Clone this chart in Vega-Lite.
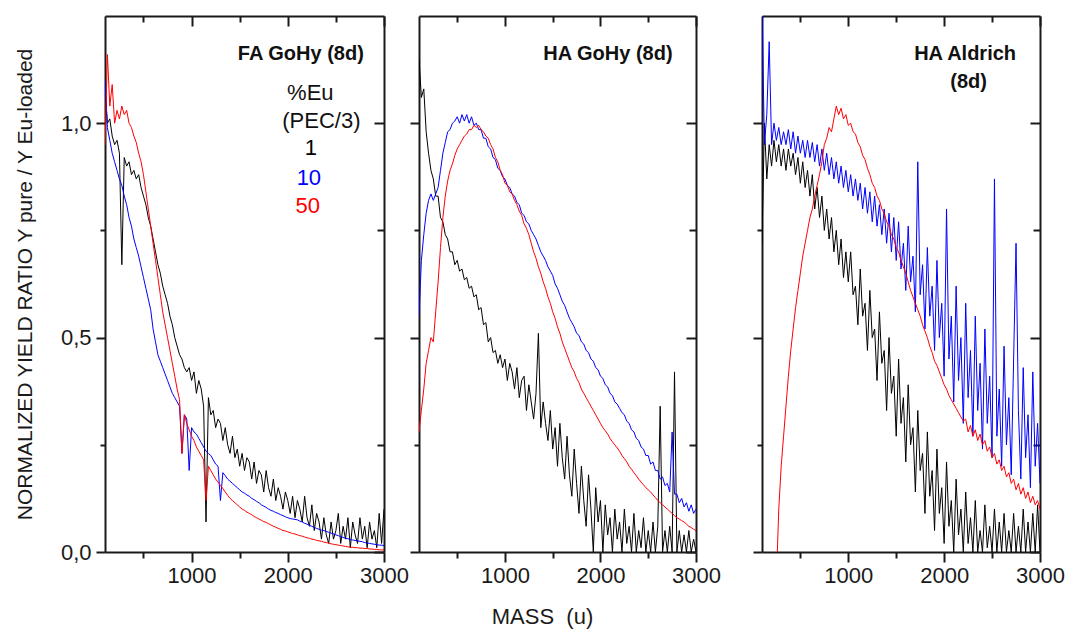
{
  "$schema": "https://vega.github.io/schema/vega-lite/v6.json",
  "background": "white",
  "padding": {"left": 14, "top": 15, "right": 5, "bottom": 5},
  "config": {
    "view": {"stroke": null},
    "font": "Liberation Sans",
    "axis": {"grid": false, "domainColor": "#1a1a1a", "domainWidth": 2, "tickColor": "#1a1a1a", "tickWidth": 2, "labelFont": "Liberation Sans", "labelFontSize": 22, "labelColor": "#1a1a1a", "labelFlush": false, "titleFont": "Liberation Sans", "titleFontSize": 21, "titleFontWeight": "normal", "titleColor": "#1a1a1a"},
    "line": {"strokeWidth": 1, "clip": true}
  },
  "datasets": {
    "spectra": [
      {"panel":"FA","mass":100,"1":1.08,"10":1.10,"50":0.95},
      {"panel":"FA","mass":125,"1":1.00,"10":0.99,"50":1.16},
      {"panel":"FA","mass":150,"1":1.01,"10":0.96,"50":1.04},
      {"panel":"FA","mass":175,"1":0.97,"10":0.93,"50":1.09},
      {"panel":"FA","mass":200,"1":0.95,"10":0.91,"50":1.00},
      {"panel":"FA","mass":225,"1":0.96,"10":0.89,"50":1.03},
      {"panel":"FA","mass":250,"1":0.93,"10":0.87,"50":1.01},
      {"panel":"FA","mass":275,"1":0.67,"10":0.855,"50":1.04},
      {"panel":"FA","mass":300,"1":0.92,"10":0.83,"50":1.02},
      {"panel":"FA","mass":325,"1":0.90,"10":0.81,"50":1.03},
      {"panel":"FA","mass":350,"1":0.91,"10":0.78,"50":1.00},
      {"panel":"FA","mass":375,"1":0.88,"10":0.76,"50":0.99},
      {"panel":"FA","mass":400,"1":0.89,"10":0.73,"50":0.97},
      {"panel":"FA","mass":425,"1":0.87,"10":0.71,"50":0.955},
      {"panel":"FA","mass":450,"1":0.88,"10":0.69,"50":0.93},
      {"panel":"FA","mass":475,"1":0.85,"10":0.665,"50":0.91},
      {"panel":"FA","mass":500,"1":0.83,"10":0.64,"50":0.88},
      {"panel":"FA","mass":525,"1":0.81,"10":0.615,"50":0.84},
      {"panel":"FA","mass":550,"1":0.78,"10":0.59,"50":0.80},
      {"panel":"FA","mass":575,"1":0.76,"10":0.565,"50":0.76},
      {"panel":"FA","mass":600,"1":0.73,"10":0.52,"50":0.72},
      {"panel":"FA","mass":625,"1":0.70,"10":0.49,"50":0.68},
      {"panel":"FA","mass":650,"1":0.67,"10":0.46,"50":0.64},
      {"panel":"FA","mass":675,"1":0.65,"10":0.445,"50":0.60},
      {"panel":"FA","mass":700,"1":0.62,"10":0.43,"50":0.56},
      {"panel":"FA","mass":725,"1":0.60,"10":0.415,"50":0.53},
      {"panel":"FA","mass":750,"1":0.58,"10":0.40,"50":0.50},
      {"panel":"FA","mass":775,"1":0.55,"10":0.385,"50":0.47},
      {"panel":"FA","mass":800,"1":0.53,"10":0.37,"50":0.44},
      {"panel":"FA","mass":825,"1":0.50,"10":0.36,"50":0.41},
      {"panel":"FA","mass":850,"1":0.48,"10":0.35,"50":0.38},
      {"panel":"FA","mass":875,"1":0.46,"10":0.34,"50":0.355},
      {"panel":"FA","mass":900,"1":0.45,"10":0.23,"50":0.23},
      {"panel":"FA","mass":925,"1":0.43,"10":0.32,"50":0.32},
      {"panel":"FA","mass":950,"1":0.42,"10":0.31,"50":0.30},
      {"panel":"FA","mass":975,"1":0.43,"10":0.19,"50":0.285},
      {"panel":"FA","mass":1000,"1":0.40,"10":0.29,"50":0.27},
      {"panel":"FA","mass":1025,"1":0.42,"10":0.28,"50":0.26},
      {"panel":"FA","mass":1050,"1":0.37,"10":0.275,"50":0.245},
      {"panel":"FA","mass":1075,"1":0.40,"10":0.265,"50":0.235},
      {"panel":"FA","mass":1100,"1":0.38,"10":0.255,"50":0.225},
      {"panel":"FA","mass":1125,"1":0.34,"10":0.245,"50":0.215},
      {"panel":"FA","mass":1150,"1":0.07,"10":0.235,"50":0.12},
      {"panel":"FA","mass":1175,"1":0.36,"10":0.23,"50":0.20},
      {"panel":"FA","mass":1200,"1":0.32,"10":0.225,"50":0.19},
      {"panel":"FA","mass":1225,"1":0.33,"10":0.215,"50":0.18},
      {"panel":"FA","mass":1250,"1":0.29,"10":0.205,"50":0.17},
      {"panel":"FA","mass":1275,"1":0.31,"10":0.20,"50":0.163},
      {"panel":"FA","mass":1300,"1":0.30,"10":0.12,"50":0.155},
      {"panel":"FA","mass":1325,"1":0.26,"10":0.185,"50":0.148},
      {"panel":"FA","mass":1350,"1":0.29,"10":0.178,"50":0.14},
      {"panel":"FA","mass":1375,"1":0.25,"10":0.17,"50":0.132},
      {"panel":"FA","mass":1400,"1":0.23,"10":0.165,"50":0.125},
      {"panel":"FA","mass":1425,"1":0.27,"10":0.16,"50":0.12},
      {"panel":"FA","mass":1450,"1":0.22,"10":0.155,"50":0.115},
      {"panel":"FA","mass":1475,"1":0.24,"10":0.15,"50":0.11},
      {"panel":"FA","mass":1500,"1":0.20,"10":0.145,"50":0.105},
      {"panel":"FA","mass":1525,"1":0.23,"10":0.14,"50":0.10},
      {"panel":"FA","mass":1550,"1":0.19,"10":0.137,"50":0.097},
      {"panel":"FA","mass":1575,"1":0.22,"10":0.133,"50":0.093},
      {"panel":"FA","mass":1600,"1":0.21,"10":0.13,"50":0.09},
      {"panel":"FA","mass":1625,"1":0.17,"10":0.125,"50":0.087},
      {"panel":"FA","mass":1650,"1":0.21,"10":0.122,"50":0.083},
      {"panel":"FA","mass":1675,"1":0.16,"10":0.118,"50":0.08},
      {"panel":"FA","mass":1700,"1":0.19,"10":0.115,"50":0.077},
      {"panel":"FA","mass":1725,"1":0.18,"10":0.11,"50":0.074},
      {"panel":"FA","mass":1750,"1":0.14,"10":0.107,"50":0.071},
      {"panel":"FA","mass":1775,"1":0.19,"10":0.104,"50":0.069},
      {"panel":"FA","mass":1800,"1":0.15,"10":0.10,"50":0.066},
      {"panel":"FA","mass":1825,"1":0.13,"10":0.097,"50":0.063},
      {"panel":"FA","mass":1850,"1":0.17,"10":0.095,"50":0.06},
      {"panel":"FA","mass":1875,"1":0.12,"10":0.092,"50":0.058},
      {"panel":"FA","mass":1900,"1":0.15,"10":0.09,"50":0.055},
      {"panel":"FA","mass":1925,"1":0.13,"10":0.087,"50":0.053},
      {"panel":"FA","mass":1950,"1":0.10,"10":0.085,"50":0.05},
      {"panel":"FA","mass":1975,"1":0.14,"10":0.082,"50":0.049},
      {"panel":"FA","mass":2000,"1":0.12,"10":0.08,"50":0.047},
      {"panel":"FA","mass":2025,"1":0.09,"10":0.078,"50":0.045},
      {"panel":"FA","mass":2050,"1":0.13,"10":0.077,"50":0.043},
      {"panel":"FA","mass":2075,"1":0.08,"10":0.076,"50":0.042},
      {"panel":"FA","mass":2100,"1":0.12,"10":0.075,"50":0.04},
      {"panel":"FA","mass":2125,"1":0.10,"10":0.072,"50":0.038},
      {"panel":"FA","mass":2150,"1":0.07,"10":0.07,"50":0.037},
      {"panel":"FA","mass":2175,"1":0.13,"10":0.067,"50":0.035},
      {"panel":"FA","mass":2200,"1":0.08,"10":0.065,"50":0.033},
      {"panel":"FA","mass":2225,"1":0.06,"10":0.062,"50":0.032},
      {"panel":"FA","mass":2250,"1":0.11,"10":0.06,"50":0.03},
      {"panel":"FA","mass":2275,"1":0.05,"10":0.057,"50":0.029},
      {"panel":"FA","mass":2300,"1":0.09,"10":0.055,"50":0.027},
      {"panel":"FA","mass":2325,"1":0.07,"10":0.053,"50":0.026},
      {"panel":"FA","mass":2350,"1":0.03,"10":0.051,"50":0.025},
      {"panel":"FA","mass":2375,"1":0.08,"10":0.05,"50":0.023},
      {"panel":"FA","mass":2400,"1":0.04,"10":0.048,"50":0.022},
      {"panel":"FA","mass":2425,"1":0.02,"10":0.046,"50":0.021},
      {"panel":"FA","mass":2450,"1":0.07,"10":0.044,"50":0.019},
      {"panel":"FA","mass":2475,"1":0.03,"10":0.042,"50":0.018},
      {"panel":"FA","mass":2500,"1":0.05,"10":0.04,"50":0.017},
      {"panel":"FA","mass":2525,"1":0.09,"10":0.038,"50":0.016},
      {"panel":"FA","mass":2550,"1":0.02,"10":0.036,"50":0.015},
      {"panel":"FA","mass":2575,"1":0.06,"10":0.034,"50":0.014},
      {"panel":"FA","mass":2600,"1":0.03,"10":0.032,"50":0.013},
      {"panel":"FA","mass":2625,"1":0.08,"10":0.031,"50":0.012},
      {"panel":"FA","mass":2650,"1":0.01,"10":0.029,"50":0.011},
      {"panel":"FA","mass":2675,"1":0.07,"10":0.028,"50":0.011},
      {"panel":"FA","mass":2700,"1":0.04,"10":0.027,"50":0.010},
      {"panel":"FA","mass":2725,"1":0.02,"10":0.026,"50":0.010},
      {"panel":"FA","mass":2750,"1":0.08,"10":0.025,"50":0.009},
      {"panel":"FA","mass":2775,"1":0.03,"10":0.024,"50":0.009},
      {"panel":"FA","mass":2800,"1":0.06,"10":0.022,"50":0.008},
      {"panel":"FA","mass":2825,"1":0.01,"10":0.021,"50":0.008},
      {"panel":"FA","mass":2850,"1":0.07,"10":0.02,"50":0.007},
      {"panel":"FA","mass":2875,"1":0.03,"10":0.019,"50":0.007},
      {"panel":"FA","mass":2900,"1":0.05,"10":0.018,"50":0.006},
      {"panel":"FA","mass":2925,"1":0.01,"10":0.017,"50":0.006},
      {"panel":"FA","mass":2950,"1":0.09,"10":0.016,"50":0.005},
      {"panel":"FA","mass":2975,"1":0.02,"10":0.016,"50":0.005},
      {"panel":"FA","mass":3000,"1":0.10,"10":0.015,"50":0.005},

      {"panel":"HG","mass":100,"1":1.15,"10":0.55,"50":0.28},
      {"panel":"HG","mass":125,"1":1.06,"10":0.68,"50":0.33},
      {"panel":"HG","mass":150,"1":1.08,"10":0.74,"50":0.38},
      {"panel":"HG","mass":175,"1":0.98,"10":0.79,"50":0.44},
      {"panel":"HG","mass":200,"1":0.93,"10":0.82,"50":0.47},
      {"panel":"HG","mass":225,"1":0.89,"10":0.835,"50":0.50},
      {"panel":"HG","mass":250,"1":0.87,"10":0.82,"50":0.49},
      {"panel":"HG","mass":275,"1":0.83,"10":0.835,"50":0.56},
      {"panel":"HG","mass":300,"1":0.83,"10":0.85,"50":0.63},
      {"panel":"HG","mass":325,"1":0.78,"10":0.89,"50":0.71},
      {"panel":"HG","mass":350,"1":0.77,"10":0.93,"50":0.78},
      {"panel":"HG","mass":375,"1":0.74,"10":0.955,"50":0.83},
      {"panel":"HG","mass":400,"1":0.73,"10":0.98,"50":0.865},
      {"panel":"HG","mass":425,"1":0.70,"10":0.985,"50":0.89},
      {"panel":"HG","mass":450,"1":0.70,"10":1.0,"50":0.905},
      {"panel":"HG","mass":475,"1":0.67,"10":1.005,"50":0.925},
      {"panel":"HG","mass":500,"1":0.68,"10":1.015,"50":0.94},
      {"panel":"HG","mass":525,"1":0.655,"10":1.0,"50":0.95},
      {"panel":"HG","mass":550,"1":0.66,"10":1.02,"50":0.96},
      {"panel":"HG","mass":575,"1":0.635,"10":1.005,"50":0.97},
      {"panel":"HG","mass":600,"1":0.64,"10":1.02,"50":0.975},
      {"panel":"HG","mass":625,"1":0.615,"10":1.0,"50":0.985},
      {"panel":"HG","mass":650,"1":0.62,"10":1.015,"50":0.985},
      {"panel":"HG","mass":675,"1":0.595,"10":0.995,"50":0.995},
      {"panel":"HG","mass":700,"1":0.60,"10":1.0,"50":0.99},
      {"panel":"HG","mass":725,"1":0.565,"10":0.985,"50":0.995},
      {"panel":"HG","mass":750,"1":0.57,"10":0.985,"50":0.985},
      {"panel":"HG","mass":775,"1":0.53,"10":0.965,"50":0.98},
      {"panel":"HG","mass":800,"1":0.535,"10":0.965,"50":0.97},
      {"panel":"HG","mass":825,"1":0.49,"10":0.945,"50":0.965},
      {"panel":"HG","mass":850,"1":0.50,"10":0.94,"50":0.95},
      {"panel":"HG","mass":875,"1":0.465,"10":0.92,"50":0.94},
      {"panel":"HG","mass":900,"1":0.47,"10":0.915,"50":0.92},
      {"panel":"HG","mass":925,"1":0.44,"10":0.895,"50":0.91},
      {"panel":"HG","mass":950,"1":0.46,"10":0.89,"50":0.89},
      {"panel":"HG","mass":975,"1":0.43,"10":0.875,"50":0.88},
      {"panel":"HG","mass":1000,"1":0.45,"10":0.87,"50":0.86},
      {"panel":"HG","mass":1025,"1":0.40,"10":0.855,"50":0.855},
      {"panel":"HG","mass":1050,"1":0.44,"10":0.85,"50":0.84},
      {"panel":"HG","mass":1075,"1":0.42,"10":0.835,"50":0.835},
      {"panel":"HG","mass":1100,"1":0.38,"10":0.83,"50":0.82},
      {"panel":"HG","mass":1125,"1":0.43,"10":0.815,"50":0.81},
      {"panel":"HG","mass":1150,"1":0.36,"10":0.81,"50":0.795},
      {"panel":"HG","mass":1175,"1":0.40,"10":0.79,"50":0.785},
      {"panel":"HG","mass":1200,"1":0.41,"10":0.785,"50":0.765},
      {"panel":"HG","mass":1225,"1":0.33,"10":0.77,"50":0.755},
      {"panel":"HG","mass":1250,"1":0.39,"10":0.765,"50":0.74},
      {"panel":"HG","mass":1275,"1":0.35,"10":0.75,"50":0.72},
      {"panel":"HG","mass":1300,"1":0.31,"10":0.74,"50":0.70},
      {"panel":"HG","mass":1325,"1":0.37,"10":0.73,"50":0.685},
      {"panel":"HG","mass":1350,"1":0.51,"10":0.715,"50":0.665},
      {"panel":"HG","mass":1375,"1":0.29,"10":0.70,"50":0.65},
      {"panel":"HG","mass":1400,"1":0.35,"10":0.69,"50":0.63},
      {"panel":"HG","mass":1425,"1":0.30,"10":0.68,"50":0.615},
      {"panel":"HG","mass":1450,"1":0.26,"10":0.665,"50":0.595},
      {"panel":"HG","mass":1475,"1":0.33,"10":0.655,"50":0.58},
      {"panel":"HG","mass":1500,"1":0.24,"10":0.645,"50":0.56},
      {"panel":"HG","mass":1525,"1":0.29,"10":0.625,"50":0.545},
      {"panel":"HG","mass":1550,"1":0.20,"10":0.615,"50":0.525},
      {"panel":"HG","mass":1575,"1":0.30,"10":0.60,"50":0.51},
      {"panel":"HG","mass":1600,"1":0.22,"10":0.585,"50":0.49},
      {"panel":"HG","mass":1625,"1":0.17,"10":0.575,"50":0.475},
      {"panel":"HG","mass":1650,"1":0.27,"10":0.56,"50":0.46},
      {"panel":"HG","mass":1675,"1":0.18,"10":0.545,"50":0.445},
      {"panel":"HG","mass":1700,"1":0.13,"10":0.535,"50":0.43},
      {"panel":"HG","mass":1725,"1":0.24,"10":0.525,"50":0.42},
      {"panel":"HG","mass":1750,"1":0.16,"10":0.51,"50":0.405},
      {"panel":"HG","mass":1775,"1":0.09,"10":0.505,"50":0.395},
      {"panel":"HG","mass":1800,"1":0.20,"10":0.49,"50":0.38},
      {"panel":"HG","mass":1825,"1":0.12,"10":0.485,"50":0.37},
      {"panel":"HG","mass":1850,"1":0.06,"10":0.47,"50":0.36},
      {"panel":"HG","mass":1875,"1":0.18,"10":0.465,"50":0.35},
      {"panel":"HG","mass":1900,"1":0.10,"10":0.45,"50":0.34},
      {"panel":"HG","mass":1925,"1":0.0,"10":0.445,"50":0.33},
      {"panel":"HG","mass":1950,"1":0.15,"10":0.43,"50":0.32},
      {"panel":"HG","mass":1975,"1":0.07,"10":0.425,"50":0.31},
      {"panel":"HG","mass":2000,"1":0.12,"10":0.41,"50":0.30},
      {"panel":"HG","mass":2025,"1":0.0,"10":0.405,"50":0.29},
      {"panel":"HG","mass":2050,"1":0.11,"10":0.39,"50":0.283},
      {"panel":"HG","mass":2075,"1":0.04,"10":0.385,"50":0.275},
      {"panel":"HG","mass":2100,"1":0.08,"10":0.37,"50":0.265},
      {"panel":"HG","mass":2125,"1":0.0,"10":0.365,"50":0.257},
      {"panel":"HG","mass":2150,"1":0.10,"10":0.35,"50":0.25},
      {"panel":"HG","mass":2175,"1":0.03,"10":0.345,"50":0.243},
      {"panel":"HG","mass":2200,"1":0.07,"10":0.335,"50":0.235},
      {"panel":"HG","mass":2225,"1":0.0,"10":0.325,"50":0.225},
      {"panel":"HG","mass":2250,"1":0.10,"10":0.32,"50":0.218},
      {"panel":"HG","mass":2275,"1":0.02,"10":0.305,"50":0.21},
      {"panel":"HG","mass":2300,"1":0.06,"10":0.30,"50":0.20},
      {"panel":"HG","mass":2325,"1":0.0,"10":0.285,"50":0.193},
      {"panel":"HG","mass":2350,"1":0.09,"10":0.28,"50":0.185},
      {"panel":"HG","mass":2375,"1":0.0,"10":0.265,"50":0.178},
      {"panel":"HG","mass":2400,"1":0.05,"10":0.26,"50":0.17},
      {"panel":"HG","mass":2425,"1":0.01,"10":0.245,"50":0.163},
      {"panel":"HG","mass":2450,"1":0.08,"10":0.24,"50":0.157},
      {"panel":"HG","mass":2475,"1":0.0,"10":0.225,"50":0.15},
      {"panel":"HG","mass":2500,"1":0.05,"10":0.225,"50":0.145},
      {"panel":"HG","mass":2525,"1":0.0,"10":0.205,"50":0.14},
      {"panel":"HG","mass":2550,"1":0.07,"10":0.21,"50":0.133},
      {"panel":"HG","mass":2575,"1":0.0,"10":0.19,"50":0.127},
      {"panel":"HG","mass":2600,"1":0.06,"10":0.19,"50":0.12},
      {"panel":"HG","mass":2625,"1":0.34,"10":0.17,"50":0.115},
      {"panel":"HG","mass":2650,"1":0.0,"10":0.175,"50":0.11},
      {"panel":"HG","mass":2675,"1":0.05,"10":0.155,"50":0.105},
      {"panel":"HG","mass":2700,"1":0.0,"10":0.16,"50":0.10},
      {"panel":"HG","mass":2725,"1":0.06,"10":0.14,"50":0.095},
      {"panel":"HG","mass":2750,"1":0.0,"10":0.28,"50":0.09},
      {"panel":"HG","mass":2775,"1":0.42,"10":0.135,"50":0.085},
      {"panel":"HG","mass":2800,"1":0.0,"10":0.135,"50":0.08},
      {"panel":"HG","mass":2825,"1":0.05,"10":0.115,"50":0.077},
      {"panel":"HG","mass":2850,"1":0.0,"10":0.125,"50":0.073},
      {"panel":"HG","mass":2875,"1":0.04,"10":0.105,"50":0.07},
      {"panel":"HG","mass":2900,"1":0.0,"10":0.115,"50":0.065},
      {"panel":"HG","mass":2925,"1":0.05,"10":0.095,"50":0.06},
      {"panel":"HG","mass":2950,"1":0.0,"10":0.11,"50":0.057},
      {"panel":"HG","mass":2975,"1":0.03,"10":0.09,"50":0.053},
      {"panel":"HG","mass":3000,"1":0.0,"10":0.10,"50":0.05},

      {"panel":"AL","mass":100,"1":0.72,"10":1.28},
      {"panel":"AL","mass":125,"1":1.00,"10":0.95},
      {"panel":"AL","mass":150,"1":0.87,"10":1.02},
      {"panel":"AL","mass":175,"1":0.95,"10":1.19},
      {"panel":"AL","mass":200,"1":0.90,"10":0.95},
      {"panel":"AL","mass":225,"1":0.96,"10":1.0},
      {"panel":"AL","mass":250,"1":0.91,"10":0.96},
      {"panel":"AL","mass":260,"50":0.0},
      {"panel":"AL","mass":275,"1":0.95,"10":0.99,"50":0.10},
      {"panel":"AL","mass":300,"1":0.90,"10":0.95,"50":0.20},
      {"panel":"AL","mass":325,"1":0.94,"10":0.98,"50":0.27},
      {"panel":"AL","mass":350,"1":0.89,"10":0.95,"50":0.34},
      {"panel":"AL","mass":375,"1":0.94,"10":0.985,"50":0.41},
      {"panel":"AL","mass":400,"1":0.90,"10":0.94,"50":0.47},
      {"panel":"AL","mass":425,"1":0.93,"10":0.98,"50":0.52},
      {"panel":"AL","mass":450,"1":0.88,"10":0.93,"50":0.57},
      {"panel":"AL","mass":475,"1":0.92,"10":0.97,"50":0.61},
      {"panel":"AL","mass":500,"1":0.86,"10":0.93,"50":0.65},
      {"panel":"AL","mass":525,"1":0.91,"10":0.96,"50":0.69},
      {"panel":"AL","mass":550,"1":0.85,"10":0.92,"50":0.72},
      {"panel":"AL","mass":575,"1":0.89,"10":0.96,"50":0.75},
      {"panel":"AL","mass":600,"1":0.83,"10":0.92,"50":0.78},
      {"panel":"AL","mass":625,"1":0.88,"10":0.955,"50":0.80},
      {"panel":"AL","mass":650,"1":0.80,"10":0.91,"50":0.83},
      {"panel":"AL","mass":675,"1":0.85,"10":0.95,"50":0.855},
      {"panel":"AL","mass":700,"1":0.78,"10":0.90,"50":0.88},
      {"panel":"AL","mass":725,"1":0.83,"10":0.94,"50":0.91},
      {"panel":"AL","mass":750,"1":0.75,"10":0.89,"50":0.95},
      {"panel":"AL","mass":775,"1":0.80,"10":0.93,"50":0.965},
      {"panel":"AL","mass":800,"1":0.73,"10":0.88,"50":0.99},
      {"panel":"AL","mass":825,"1":0.78,"10":0.92,"50":0.98},
      {"panel":"AL","mass":850,"1":0.70,"10":0.87,"50":1.01},
      {"panel":"AL","mass":875,"1":0.75,"10":0.91,"50":1.04},
      {"panel":"AL","mass":900,"1":0.67,"10":0.86,"50":1.02},
      {"panel":"AL","mass":925,"1":0.73,"10":0.90,"50":1.035},
      {"panel":"AL","mass":950,"1":0.64,"10":0.85,"50":1.01},
      {"panel":"AL","mass":975,"1":0.70,"10":0.89,"50":1.02},
      {"panel":"AL","mass":1000,"1":0.63,"10":0.84,"50":0.995},
      {"panel":"AL","mass":1025,"1":0.70,"10":0.88,"50":1.0},
      {"panel":"AL","mass":1050,"1":0.60,"10":0.83,"50":0.98},
      {"panel":"AL","mass":1075,"1":0.62,"10":0.87,"50":0.975},
      {"panel":"AL","mass":1100,"1":0.53,"10":0.82,"50":0.955},
      {"panel":"AL","mass":1125,"1":0.66,"10":0.86,"50":0.945},
      {"panel":"AL","mass":1150,"1":0.55,"10":0.80,"50":0.925},
      {"panel":"AL","mass":1175,"1":0.58,"10":0.85,"50":0.915},
      {"panel":"AL","mass":1200,"1":0.47,"10":0.79,"50":0.895},
      {"panel":"AL","mass":1225,"1":0.61,"10":0.84,"50":0.88},
      {"panel":"AL","mass":1250,"1":0.50,"10":0.77,"50":0.86},
      {"panel":"AL","mass":1275,"1":0.52,"10":0.83,"50":0.85},
      {"panel":"AL","mass":1300,"1":0.40,"10":0.76,"50":0.83},
      {"panel":"AL","mass":1325,"1":0.56,"10":0.81,"50":0.82},
      {"panel":"AL","mass":1350,"1":0.44,"10":0.74,"50":0.80},
      {"panel":"AL","mass":1375,"1":0.47,"10":0.80,"50":0.79},
      {"panel":"AL","mass":1400,"1":0.33,"10":0.72,"50":0.77},
      {"panel":"AL","mass":1425,"1":0.50,"10":0.79,"50":0.76},
      {"panel":"AL","mass":1450,"1":0.37,"10":0.70,"50":0.74},
      {"panel":"AL","mass":1475,"1":0.41,"10":0.78,"50":0.73},
      {"panel":"AL","mass":1500,"1":0.27,"10":0.68,"50":0.71},
      {"panel":"AL","mass":1525,"1":0.45,"10":0.77,"50":0.70},
      {"panel":"AL","mass":1550,"1":0.30,"10":0.66,"50":0.68},
      {"panel":"AL","mass":1575,"1":0.36,"10":0.72,"50":0.665},
      {"panel":"AL","mass":1600,"1":0.21,"10":0.61,"50":0.65},
      {"panel":"AL","mass":1625,"1":0.39,"10":0.76,"50":0.63},
      {"panel":"AL","mass":1650,"1":0.25,"10":0.63,"50":0.61},
      {"panel":"AL","mass":1675,"1":0.29,"10":0.69,"50":0.595},
      {"panel":"AL","mass":1700,"1":0.14,"10":0.56,"50":0.58},
      {"panel":"AL","mass":1725,"1":0.33,"10":0.91,"50":0.565},
      {"panel":"AL","mass":1750,"1":0.19,"10":0.60,"50":0.55},
      {"panel":"AL","mass":1775,"1":0.23,"10":0.67,"50":0.53},
      {"panel":"AL","mass":1800,"1":0.09,"10":0.52,"50":0.515},
      {"panel":"AL","mass":1825,"1":0.28,"10":0.71,"50":0.50},
      {"panel":"AL","mass":1850,"1":0.13,"10":0.55,"50":0.48},
      {"panel":"AL","mass":1875,"1":0.19,"10":0.62,"50":0.465},
      {"panel":"AL","mass":1900,"1":0.05,"10":0.47,"50":0.445},
      {"panel":"AL","mass":1925,"1":0.24,"10":0.68,"50":0.435},
      {"panel":"AL","mass":1950,"1":0.09,"10":0.50,"50":0.42},
      {"panel":"AL","mass":1975,"1":0.15,"10":0.58,"50":0.405},
      {"panel":"AL","mass":2000,"1":0.02,"10":0.41,"50":0.39},
      {"panel":"AL","mass":2025,"1":0.21,"10":0.80,"50":0.38},
      {"panel":"AL","mass":2050,"1":0.06,"10":0.45,"50":0.365},
      {"panel":"AL","mass":2075,"1":0.12,"10":0.55,"50":0.355},
      {"panel":"AL","mass":2100,"1":0.0,"10":0.35,"50":0.345},
      {"panel":"AL","mass":2125,"1":0.17,"10":0.62,"50":0.335},
      {"panel":"AL","mass":2150,"1":0.04,"10":0.40,"50":0.325},
      {"panel":"AL","mass":2175,"1":0.10,"10":0.50,"50":0.315},
      {"panel":"AL","mass":2200,"1":0.0,"10":0.30,"50":0.305},
      {"panel":"AL","mass":2225,"1":0.14,"10":0.58,"50":0.31},
      {"panel":"AL","mass":2250,"1":0.02,"10":0.36,"50":0.28},
      {"panel":"AL","mass":2275,"1":0.08,"10":0.47,"50":0.295},
      {"panel":"AL","mass":2300,"1":0.0,"10":0.27,"50":0.27},
      {"panel":"AL","mass":2325,"1":0.12,"10":0.55,"50":0.285},
      {"panel":"AL","mass":2350,"1":0.0,"10":0.33,"50":0.26},
      {"panel":"AL","mass":2375,"1":0.05,"10":0.44,"50":0.275},
      {"panel":"AL","mass":2400,"1":0.0,"10":0.24,"50":0.25},
      {"panel":"AL","mass":2425,"1":0.11,"10":0.52,"50":0.26},
      {"panel":"AL","mass":2450,"1":0.01,"10":0.30,"50":0.235},
      {"panel":"AL","mass":2475,"1":0.06,"10":0.41,"50":0.245},
      {"panel":"AL","mass":2500,"1":0.0,"10":0.22,"50":0.22},
      {"panel":"AL","mass":2525,"1":0.10,"10":0.87,"50":0.23},
      {"panel":"AL","mass":2550,"1":0.0,"10":0.27,"50":0.205},
      {"panel":"AL","mass":2575,"1":0.07,"10":0.38,"50":0.215},
      {"panel":"AL","mass":2600,"1":0.0,"10":0.20,"50":0.19},
      {"panel":"AL","mass":2625,"1":0.09,"10":0.48,"50":0.20},
      {"panel":"AL","mass":2650,"1":0.0,"10":0.25,"50":0.175},
      {"panel":"AL","mass":2675,"1":0.05,"10":0.36,"50":0.185},
      {"panel":"AL","mass":2700,"1":0.0,"10":0.18,"50":0.16},
      {"panel":"AL","mass":2725,"1":0.09,"10":0.45,"50":0.17},
      {"panel":"AL","mass":2750,"1":0.0,"10":0.72,"50":0.145},
      {"panel":"AL","mass":2775,"1":0.06,"10":0.33,"50":0.16},
      {"panel":"AL","mass":2800,"1":0.0,"10":0.17,"50":0.135},
      {"panel":"AL","mass":2825,"1":0.10,"10":0.43,"50":0.15},
      {"panel":"AL","mass":2850,"1":0.0,"10":0.22,"50":0.125},
      {"panel":"AL","mass":2875,"1":0.07,"10":0.32,"50":0.14},
      {"panel":"AL","mass":2900,"1":0.0,"10":0.15,"50":0.115},
      {"panel":"AL","mass":2925,"1":0.09,"10":0.42,"50":0.13},
      {"panel":"AL","mass":2950,"1":0.0,"10":0.20,"50":0.11},
      {"panel":"AL","mass":2975,"1":0.11,"10":0.30,"50":0.12},
      {"panel":"AL","mass":3000,"1":0.0,"10":0.16,"50":0.10}
    ]
  },
  "hconcat": [
    {
      "bounds": "flush",
      "spacing": 35,
      "hconcat": [
        {
          "width": 279, "height": 536,
          "layer": [
            {
              "data": {"name": "spectra"},
              "transform": [
                {"filter": "datum.panel === 'FA'"},
                {"fold": ["1", "10", "50"], "as": ["series", "value"]},
                {"filter": "isValid(datum.value)"}
              ],
              "mark": {"type": "line", "strokeWidth": 1, "clip": true},
              "encoding": {
                "x": {"field": "mass", "type": "quantitative", "scale": {"domain": [100, 3000], "nice": false, "zero": false},
                  "axis": {"orient": "bottom", "title": null, "values": [500, 1000, 1500, 2000, 2500, 3000], "format": "d", "labelExpr": "datum.value % 1000 === 0 ? datum.label : ''", "tickSize": {"condition": {"test": "datum.value % 1000 === 0", "value": 10}, "value": 6}, "labelPadding": 3}},
                "y": {"field": "value", "type": "quantitative", "scale": {"domain": [0, 1.25], "nice": false, "zero": false},
                  "axis": {"orient": "left", "title": "NORMALIZED  YIELD  RATIO  Y pure / Y Eu-loaded", "values": [0, 0.25, 0.5, 0.75, 1], "labelExpr": "datum.value % 0.5 === 0 ? replace(format(datum.value, '.1f'), '.', ',') : ''", "tickSize": {"condition": {"test": "datum.value % 0.5 === 0", "value": 9}, "value": 5}, "labelPadding": 5, "titlePadding": 25}},
                "color": {"field": "series", "type": "nominal", "scale": {"domain": ["1", "10", "50"], "range": ["#000000", "#0000ff", "#ff0000"]}, "legend": null}
              }
            },
            {
              "data": {"values": [{"t": "FA GoHy (8d)"}]},
              "mark": {"type": "text", "align": "right", "baseline": "alphabetic", "fontSize": 20, "fontWeight": "bold", "font": "Liberation Sans", "color": "#111111"},
              "encoding": {
                "text": {"field": "t"},
                "x": {"datum": 2790, "type": "quantitative", "scale": {"domain": [100, 3000], "nice": false, "zero": false},
                  "axis": {"orient": "top", "title": null, "labels": false, "values": [500, 1000, 1500, 2000, 2500, 3000], "tickSize": {"condition": {"test": "datum.value % 1000 === 0", "value": -10}, "value": -6}}},
                "y": {"datum": 1.147, "type": "quantitative", "scale": {"domain": [0, 1.25], "nice": false, "zero": false},
                  "axis": {"orient": "right", "title": null, "labels": false, "values": [0, 0.25, 0.5, 0.75, 1], "tickSize": {"condition": {"test": "datum.value % 0.5 === 0", "value": -10}, "value": -7}}}
              }
            },
            {
              "data": {"values": [{"t": "%Eu"}]},
              "mark": {"type": "text", "align": "center", "baseline": "alphabetic", "fontSize": 22, "font": "Liberation Sans", "color": "#111111"},
              "encoding": {"text": {"field": "t"}, "x": {"datum": 2234, "type": "quantitative", "axis": null}, "y": {"datum": 1.054, "type": "quantitative", "axis": null}}
            },
            {
              "data": {"values": [{"t": "(PEC/3)"}]},
              "mark": {"type": "text", "align": "center", "baseline": "alphabetic", "fontSize": 22, "font": "Liberation Sans", "color": "#111111"},
              "encoding": {"text": {"field": "t"}, "x": {"datum": 2349, "type": "quantitative", "axis": null}, "y": {"datum": 0.988, "type": "quantitative", "axis": null}}
            },
            {
              "data": {"values": [{"t": "1"}]},
              "mark": {"type": "text", "align": "center", "baseline": "alphabetic", "fontSize": 22, "font": "Liberation Sans", "color": "#000000"},
              "encoding": {"text": {"field": "t"}, "x": {"datum": 2240, "type": "quantitative", "axis": null}, "y": {"datum": 0.925, "type": "quantitative", "axis": null}}
            },
            {
              "data": {"values": [{"t": "10"}]},
              "mark": {"type": "text", "align": "center", "baseline": "alphabetic", "fontSize": 22, "font": "Liberation Sans", "color": "#0000ff"},
              "encoding": {"text": {"field": "t"}, "x": {"datum": 2219, "type": "quantitative", "axis": null}, "y": {"datum": 0.855, "type": "quantitative", "axis": null}}
            },
            {
              "data": {"values": [{"t": "50"}]},
              "mark": {"type": "text", "align": "center", "baseline": "alphabetic", "fontSize": 22, "font": "Liberation Sans", "color": "#ff0000"},
              "encoding": {"text": {"field": "t"}, "x": {"datum": 2208, "type": "quantitative", "axis": null}, "y": {"datum": 0.79, "type": "quantitative", "axis": null}}
            }
          ],
          "resolve": {"axis": {"x": "independent", "y": "independent"}}
        },
        {
          "width": 277, "height": 536,
          "layer": [
            {
              "data": {"name": "spectra"},
              "transform": [
                {"filter": "datum.panel === 'HG'"},
                {"fold": ["1", "10", "50"], "as": ["series", "value"]},
                {"filter": "isValid(datum.value)"}
              ],
              "mark": {"type": "line", "strokeWidth": 1, "clip": true},
              "encoding": {
                "x": {"field": "mass", "type": "quantitative", "scale": {"domain": [100, 3000], "nice": false, "zero": false},
                  "axis": {"orient": "bottom", "title": "MASS\u00a0\u00a0(u)", "titleFontSize": 22, "titleX": 123, "titlePadding": 20, "values": [500, 1000, 1500, 2000, 2500, 3000], "format": "d", "labelExpr": "datum.value % 1000 === 0 ? datum.label : ''", "tickSize": {"condition": {"test": "datum.value % 1000 === 0", "value": 10}, "value": 6}, "labelPadding": 3}},
                "y": {"field": "value", "type": "quantitative", "scale": {"domain": [0, 1.25], "nice": false, "zero": false},
                  "axis": {"orient": "left", "title": null, "labels": false, "values": [0, 0.25, 0.5, 0.75, 1], "tickSize": {"condition": {"test": "datum.value % 0.5 === 0", "value": 9}, "value": 5}}},
                "color": {"field": "series", "type": "nominal", "scale": {"domain": ["1", "10", "50"], "range": ["#000000", "#0000ff", "#ff0000"]}, "legend": null}
              }
            },
            {
              "data": {"values": [{"t": "HA GoHy (8d)"}]},
              "mark": {"type": "text", "align": "right", "baseline": "alphabetic", "fontSize": 20, "fontWeight": "bold", "font": "Liberation Sans", "color": "#111111"},
              "encoding": {
                "text": {"field": "t"},
                "x": {"datum": 2755, "type": "quantitative", "scale": {"domain": [100, 3000], "nice": false, "zero": false},
                  "axis": {"orient": "top", "title": null, "labels": false, "values": [500, 1000, 1500, 2000, 2500, 3000], "tickSize": {"condition": {"test": "datum.value % 1000 === 0", "value": -10}, "value": -6}}},
                "y": {"datum": 1.147, "type": "quantitative", "scale": {"domain": [0, 1.25], "nice": false, "zero": false},
                  "axis": {"orient": "right", "title": null, "labels": false, "values": [0, 0.25, 0.5, 0.75, 1], "tickSize": {"condition": {"test": "datum.value % 0.5 === 0", "value": -10}, "value": -7}}}
              }
            }
          ],
          "resolve": {"axis": {"x": "independent", "y": "independent"}}
        }
      ]
    },
    {
      "width": 278, "height": 536,
      "layer": [
        {
          "data": {"name": "spectra"},
          "transform": [
            {"filter": "datum.panel === 'AL'"},
            {"fold": ["1", "10", "50"], "as": ["series", "value"]},
            {"filter": "isValid(datum.value)"}
          ],
          "mark": {"type": "line", "strokeWidth": 1, "clip": true},
          "encoding": {
            "x": {"field": "mass", "type": "quantitative", "scale": {"domain": [100, 3000], "nice": false, "zero": false},
              "axis": {"orient": "bottom", "title": null, "values": [500, 1000, 1500, 2000, 2500, 3000], "format": "d", "labelExpr": "datum.value % 1000 === 0 ? datum.label : ''", "tickSize": {"condition": {"test": "datum.value % 1000 === 0", "value": 10}, "value": 6}, "labelPadding": 3}},
            "y": {"field": "value", "type": "quantitative", "scale": {"domain": [0, 1.25], "nice": false, "zero": false},
              "axis": {"orient": "left", "title": null, "labels": false, "values": [0, 0.25, 0.5, 0.75, 1], "tickSize": {"condition": {"test": "datum.value % 0.5 === 0", "value": 9}, "value": 5}}},
            "color": {"field": "series", "type": "nominal", "scale": {"domain": ["1", "10", "50"], "range": ["#000000", "#0000ff", "#ff0000"]}, "legend": null}
          }
        },
        {
          "data": {"values": [{"t": "HA Aldrich"}]},
          "mark": {"type": "text", "align": "right", "baseline": "alphabetic", "fontSize": 20, "fontWeight": "bold", "font": "Liberation Sans", "color": "#111111"},
          "encoding": {
            "text": {"field": "t"},
            "x": {"datum": 2750, "type": "quantitative", "scale": {"domain": [100, 3000], "nice": false, "zero": false},
              "axis": {"orient": "top", "title": null, "labels": false, "values": [500, 1000, 1500, 2000, 2500, 3000], "tickSize": {"condition": {"test": "datum.value % 1000 === 0", "value": -10}, "value": -6}}},
            "y": {"datum": 1.147, "type": "quantitative", "scale": {"domain": [0, 1.25], "nice": false, "zero": false},
              "axis": {"orient": "right", "title": null, "labels": false, "values": [0, 0.25, 0.5, 0.75, 1], "tickSize": {"condition": {"test": "datum.value % 0.5 === 0", "value": -10}, "value": -7}}}
          }
        },
        {
          "data": {"values": [{"t": "(8d)"}]},
          "mark": {"type": "text", "align": "center", "baseline": "alphabetic", "fontSize": 20, "fontWeight": "bold", "font": "Liberation Sans", "color": "#111111"},
          "encoding": {"text": {"field": "t"}, "x": {"datum": 2255, "type": "quantitative", "axis": null}, "y": {"datum": 1.082, "type": "quantitative", "axis": null}}
        }
      ],
      "resolve": {"axis": {"x": "independent", "y": "independent"}}
    }
  ],
  "spacing": 31
}
